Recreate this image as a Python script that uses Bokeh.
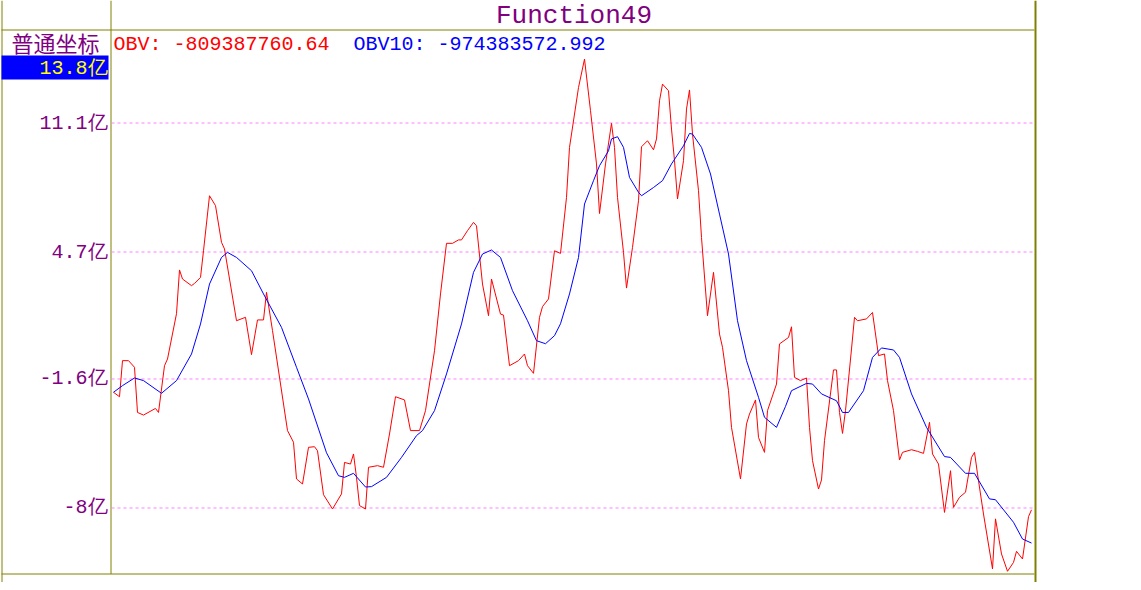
from bokeh.plotting import figure
from bokeh.models import Range1d
from bokeh.core.properties import value
from bokeh.embed import file_html
from bokeh.resources import INLINE

# ---------------- data (values in 亿) ----------------
obv_idx = [0, 2, 3, 5, 7, 8, 10, 14, 15, 17, 18, 21, 22, 23, 26, 27, 29, 30, 32, 34,
           36, 37, 41, 44, 46, 48, 50, 51, 53, 58, 60, 61, 63, 65, 67, 68, 70, 73, 76, 77,
           79, 80, 81, 82, 84, 85, 88, 90, 92, 94, 97, 99, 102, 104, 107, 109, 111, 113, 115, 116,
           118, 120, 121, 123, 125, 126, 129, 130, 132, 135, 137, 138, 140, 142, 143, 145, 147, 149, 151, 152,
           155, 157, 159, 161, 162, 164, 166, 167, 168, 170, 171, 173, 175, 176, 178, 180, 181, 182, 183, 185,
           186, 187, 188, 190, 191, 192, 193, 195, 196, 198, 200, 202, 203, 205, 206, 209, 211, 212, 214, 215,
           217, 218, 221, 222, 225, 226, 227, 229, 231, 232, 233, 235, 236, 237, 240, 241, 242, 243, 244, 246,
           247, 248, 251, 253, 255, 257, 258, 260, 262, 263, 266, 268, 270, 272, 273, 275, 277, 279, 280, 282,
           284, 286, 287, 288, 290, 293, 294, 296, 298, 300, 301, 303, 305, 306]
obv_val = [-2.26, -2.48, -0.69, -0.69, -1.02, -3.26, -3.39, -3.06, -3.26, -0.94, -0.61, 1.64, 3.81, 3.36, 3.03, 3.14, 3.44, 4.76, 7.49, 7.00,
           5.18, 4.85, 1.29, 1.46, -0.39, 1.33, 1.33, 2.70, 0.80, -4.16, -4.74, -6.56, -6.81, -4.99, -4.96, -5.16, -7.34, -8.05, -7.30, -5.74,
           -5.82, -5.32, -6.48, -7.88, -8.05, -5.98, -5.90, -5.98, -4.33, -2.48, -2.64, -4.16, -4.16, -3.17, -0.20, 2.62, 5.13, 5.13, 5.30, 5.30,
           5.76, 6.17, 6.00, 3.11, 1.54, 3.36, 1.62, 1.57, -0.94, -0.69, -0.36, -0.94, -1.32, 1.46, 1.99, 2.37, 4.76, 4.63, 7.41, 9.89,
           12.86, 14.27, 11.71, 9.07, 6.61, 9.07, 11.08, 9.89, 7.41, 4.68, 2.91, 4.93, 7.24, 9.92, 10.22, 9.77, 10.31, 12.20, 13.03, 12.70,
           10.80, 9.23, 7.33, 9.23, 11.79, 12.74, 10.55, 7.74, 5.42, 1.54, 3.69, 0.63, -0.03, -2.18, -4.00, -6.56, -3.83, -3.34, -2.64, -4.50,
           -5.24, -3.17, -1.85, 0.14, 0.46, 0.99, -1.52, -1.68, -1.55, -4.00, -5.65, -7.06, -6.61, -4.66, -1.15, -1.15, -3.26, -4.30, -3.17, -0.11,
           1.46, 1.29, 1.38, 1.70, -0.44, -0.36, -1.68, -3.17, -5.62, -5.24, -5.11, -5.19, -5.29, -3.75, -5.32, -5.82, -8.22, -6.15, -7.97, -7.47,
           -7.22, -5.49, -5.24, -6.31, -8.30, -11.02, -8.54, -10.28, -11.14, -10.70, -10.15, -10.53, -8.43, -8.09]

obv10_idx = [0, 3, 7, 10, 16, 21, 26, 29, 32, 36, 38, 41, 46, 50, 56, 61, 65, 71, 75, 77,
             80, 84, 86, 91, 96, 101, 103, 107, 111, 116, 120, 123, 126, 129, 133, 138, 141, 144, 147, 149,
             152, 155, 157, 160, 162, 165, 166, 168, 170, 172, 175, 176, 180, 183, 186, 190, 192, 193, 196, 199,
             202, 205, 208, 211, 215, 217, 221, 224, 226, 231, 233, 236, 241, 243, 245, 250, 253, 256, 260, 262,
             266, 271, 277, 279, 284, 287, 292, 294, 300, 303, 306]
obv10_val = [-2.26, -1.93, -1.55, -1.68, -2.31, -1.68, -0.36, 1.13, 3.11, 4.43, 4.68, 4.43, 3.77, 2.62, 0.96, -1.02, -2.59, -5.26, -6.40, -6.48,
             -6.28, -6.96, -6.94, -6.48, -5.49, -4.41, -4.16, -3.17, -1.35, 1.13, 3.69, 4.60, 4.80, 4.43, 2.78, 1.29, 0.30, 0.15, 0.55, 1.14,
             2.62, 4.43, 7.08, 8.24, 8.98, 9.72, 10.31, 10.42, 9.89, 8.40, 7.66, 7.49, 7.90, 8.24, 9.07, 9.97, 10.58, 10.55, 9.89, 8.57,
             6.58, 4.60, 1.29, -0.69, -2.51, -3.50, -4.00, -2.96, -2.18, -1.82, -1.85, -2.34, -2.68, -3.26, -3.26, -2.18, -0.53, -0.06, -0.16, -0.53,
             -2.34, -4.00, -5.45, -5.49, -6.28, -6.28, -7.55, -7.59, -8.71, -9.54, -9.74]

tick_values = [11.1, 4.7, -1.6, -8]
tick_labels = ["11.1亿", "4.7亿", "-1.6亿", "-8亿"]
top_value = 13.8
top_label = "13.8亿"
title_text = "Function49"
mode_text = "普通坐标"
obv_text = "OBV: -809387760.64"
obv10_text = "OBV10: -974383572.992"

# ---------------- layout helpers (pixel -> data) ----------------
W, H = 1133, 582
PX_PER_X = 3.0
PX_PER_Y = 20.15625          # 129 px per 6.4 亿
X_START = -113.0 / 3.0
Y_TOP = 4.7 + 251.5 / PX_PER_Y


def X(px):
    return X_START + px / PX_PER_X


def Y(py):
    return Y_TOP - py / PX_PER_Y


PURPLE = "#800080"
OLIVE = "#808000"
GRID = "#FF80FF"
MONO = value("Liberation Mono")

p = figure(width=W, height=H, output_backend="svg", toolbar_location=None,
           x_range=Range1d(X(0), X(W)), y_range=Range1d(Y(H), Y(0)),
           x_axis_location=None, y_axis_location=None, min_border=0)
p.min_border_left = p.min_border_right = p.min_border_top = p.min_border_bottom = 0
p.grid.visible = False
p.outline_line_color = None
p.background_fill_color = "white"
p.border_fill_color = "white"

# frame lines
p.segment(x0=[X(1.5), X(110.5), X(1), X(1)], y0=[Y(0), Y(0), Y(29.5), Y(573.5)],
          x1=[X(1.5), X(110.5), X(1034), X(1034)], y1=[Y(H), Y(573.5), Y(29.5), Y(573.5)],
          line_color=OLIVE, line_width=1)
p.segment(x0=[X(1035)], y0=[Y(0)], x1=[X(1035)], y1=[Y(H)],
          line_color=OLIVE, line_width=2)

# dashed grid lines at tick values
p.segment(x0=[X(111)] * len(tick_values), y0=tick_values,
          x1=[X(1033)] * len(tick_values), y1=tick_values,
          line_color=GRID, line_width=1, line_dash="3 3")

# series
p.line(obv_idx, obv_val, line_color="#FF0000", line_width=1)
p.line(obv10_idx, obv10_val, line_color="#0000FF", line_width=1)

# y labels
p.text(x=[X(107)] * len(tick_values), y=tick_values, text=tick_labels,
       text_font=MONO, text_font_size="20px", text_color=PURPLE,
       text_align="right", text_baseline="middle")

# highlighted top label
p.quad(left=[X(1)], right=[X(108)], top=[Y(55)], bottom=[Y(79)],
       fill_color="#0000FF", line_color=None)
p.text(x=[X(107)], y=[top_value], text=[top_label],
       text_font=MONO, text_font_size="20px", text_color="#FFFF00",
       text_align="right", text_baseline="middle")

# mode label
p.text(x=[X(11)], y=[Y(41.5)], text=[mode_text],
       text_font=value("Noto Sans CJK SC"), text_font_size="22px", text_color=PURPLE,
       text_align="left", text_baseline="middle")

# title
p.text(x=[X(573.5)], y=[Y(15)], text=[title_text],
       text_font=MONO, text_font_size="26px", text_color=PURPLE,
       text_align="center", text_baseline="middle")

# legend values
p.text(x=[X(113)], y=[Y(44)], text=[obv_text],
       text_font=MONO, text_font_size="20px", text_color="#FF0000",
       text_align="left", text_baseline="middle")
p.text(x=[X(353)], y=[Y(44)], text=[obv10_text],
       text_font=MONO, text_font_size="20px", text_color="#0000FF",
       text_align="left", text_baseline="middle")

open("out.html", "w").write(file_html(p, INLINE))
